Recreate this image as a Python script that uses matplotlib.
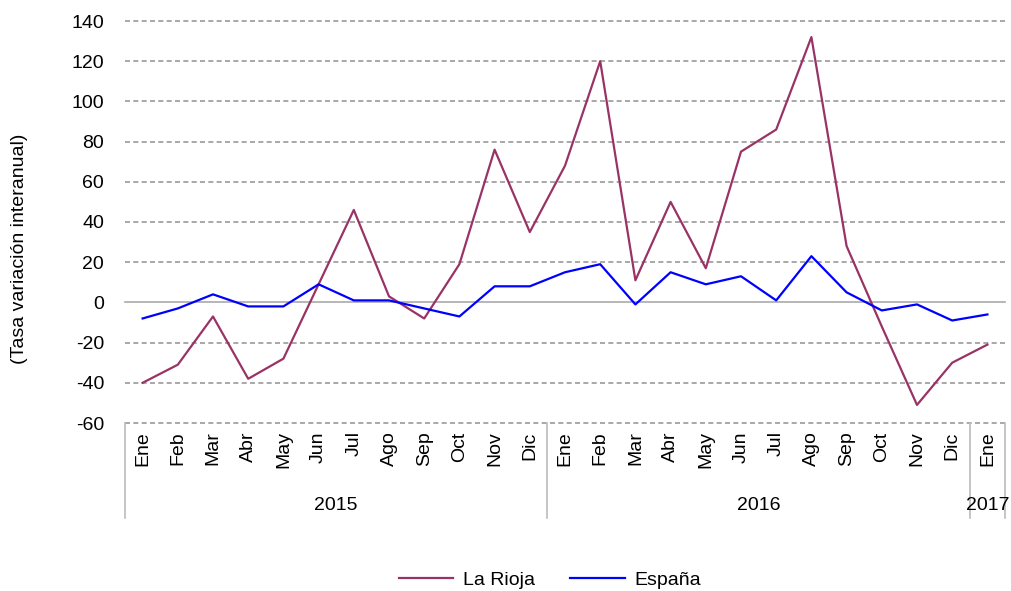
import matplotlib.pyplot as plt
from matplotlib import transforms

plt.rcParams['font.family'] = ['Liberation Sans', 'DejaVu Sans']
plt.rcParams['axes.unicode_minus'] = False

# Months from Ene 2015 to Ene 2017
months = ['Ene', 'Feb', 'Mar', 'Abr', 'May', 'Jun', 'Jul', 'Ago', 'Sep', 'Oct', 'Nov', 'Dic',
          'Ene', 'Feb', 'Mar', 'Abr', 'May', 'Jun', 'Jul', 'Ago', 'Sep', 'Oct', 'Nov', 'Dic',
          'Ene']
years = ['2015', '2016', '2017']
year_counts = [12, 12, 1]

la_rioja = [-40, -31, -7, -38, -28, 9, 46, 3, -8, 19, 76, 35,
            68, 120, 11, 50, 17, 75, 86, 132, 28, -12, -51, -30,
            -21]
espana = [-8, -3, 4, -2, -2, 9, 1, 1, -3, -7, 8, 8,
          15, 19, -1, 15, 9, 13, 1, 23, 5, -4, -1, -9,
          -6]

fig = plt.figure(figsize=(10.12, 5.91), dpi=100)
ax = fig.add_axes([125 / 1012, 1 - 423 / 591, 880 / 1012, 402 / 591])

x = list(range(len(months)))
ax.plot(x, la_rioja, color='#993366', lw=1.6, label='La Rioja')
ax.plot(x, espana, color='#0000FF', lw=1.6, label='España')

ax.set_xlim(-0.5, len(months) - 0.5)
ax.set_ylim(-60, 140)
ax.set_yticks(range(-60, 141, 20))

# gridlines: dashed, zero solid
for v in range(-60, 141, 20):
    if v == 0:
        ax.axhline(v, color='#aaaaaa', lw=1.2, zorder=0, clip_on=False)
    else:
        ax.axhline(v, color='#999999', lw=1.2, ls=(0, (3, 2)), zorder=0, clip_on=False)

for s in ax.spines.values():
    s.set_visible(False)

ax.tick_params(axis='y', length=0, labelsize=14, pad=15)
ax.set_xticks(x)
ax.set_xticklabels(months, rotation=90, fontsize=14, va='top')
ax.tick_params(axis='x', length=0, pad=6)

# category box below the plot
trans = transforms.blended_transform_factory(ax.transData, ax.transAxes)
bottom = -95 / 402
edges = [-0.5]
for n in year_counts:
    edges.append(edges[-1] + n)
for e in edges:
    ax.plot([e, e], [0, bottom], transform=trans, color='#bbbbbb', lw=1.2, clip_on=False)
for i, yr in enumerate(years):
    mid = (edges[i] + edges[i + 1]) / 2
    ax.text(mid, -82 / 402, yr, transform=trans, ha='center', va='center', fontsize=14)

fig.text(20 / 1012, 1 - 249 / 591, '(Tasa variación interanual)', rotation=90,
         ha='center', va='center', fontsize=14)

fig.legend(loc='center', bbox_to_anchor=(550 / 1012, 1 - 580 / 591), ncol=2, frameon=False,
           fontsize=14, handlelength=2.8, columnspacing=1.8, handletextpad=0.5)

fig.savefig('out.png', dpi=100)
